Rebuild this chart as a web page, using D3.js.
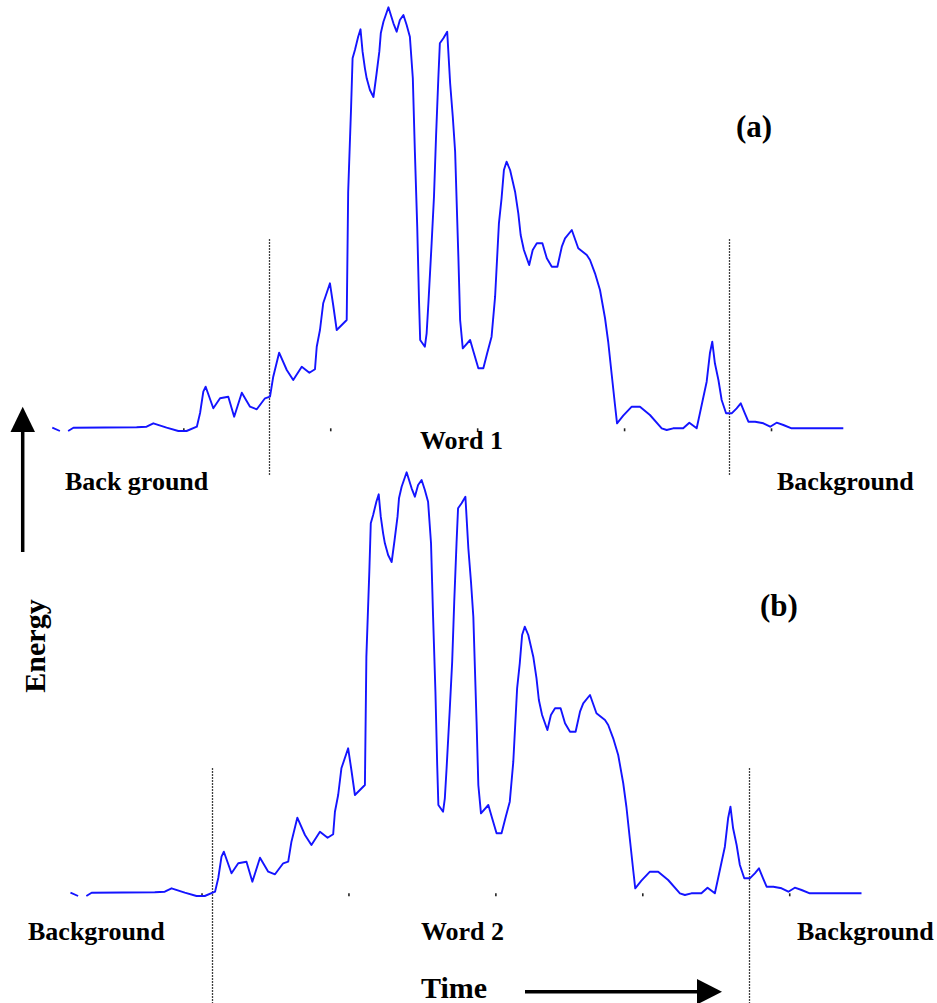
<!DOCTYPE html>
<html>
<head>
<meta charset="utf-8">
<script src="https://cdn.jsdelivr.net/npm/d3@7/dist/d3.min.js"></script>
<style>
  body { margin: 0; background: #fff; }
  svg { display: block; }
  text { font-family: "Liberation Serif", "Times New Roman", serif; font-weight: bold; fill: #000; }
</style>
</head>
<body>
<svg id="chart" width="937" height="1003"></svg>
<script>
// Short-time energy of the spoken word, frame index vs. energy (arbitrary units).
// A null marks a short break in the plotted trace.
const frames = [
  5.4, 8.0, 9.4, 10.8, 12.6, 34.1, 37.5, 39.8, 44.3, 48.3,
  51.1, 54.6, 55.7, 56.8, 57.6, 60.2, 62.5, 65.3, 67.3, 69.9,
  72.7, 75.0, 77.8, 79.5, 80.6, 82.6, 85.2, 87.4, 90.3, 92.9,
  94.8, 95.4, 96.5, 97.6, 99.9, 101.0, 102.2, 105.6, 106.1, 107.1,
  107.6, 108.4, 109.5, 110.3, 111.0, 111.8, 112.4, 113.5, 114.7, 115.7,
  116.7, 117.2, 118.1, 119.8, 121.5, 122.6, 123.7, 124.9, 126.0, 127.1,
  128.1, 128.8, 129.6, 130.2, 130.6, 132.2, 132.8, 133.4, 134.5, 135.3,
  136.0, 136.8, 137.3, 138.5, 139.8, 140.8, 141.7, 142.5, 143.0, 143.6,
  144.2, 145.1, 147.6, 148.9, 150.4, 152.1, 153.4, 154.9, 156.1, 157.4,
  158.3, 159.1, 160.0, 161.2, 162.9, 164.0, 164.8, 165.9, 167.7, 168.9,
  170.3, 172.2, 173.7, 175.4, 177.3, 178.8, 179.9, 182.2, 184.4, 187.3,
  188.4, 190.1, 191.8, 193.5, 194.6, 195.8, 196.9, 197.6, 199.7, 202.6,
  205.4, 208.8, 212.8, 214.5, 216.7, 220.1, 222.2, 224.7, 225.8, 227.0,
  228.1, 229.2, 230.0, 230.9, 232.1, 233.2, 234.7, 236.6, 238.3, 239.7,
  241.1, 242.3, 244.6, 247.4, 249.7, 251.9, 254.2, 257.0, 274.6
];
const energy = [
  0.6, -2.7, null, -2.7, 0.6, 1.0, 1.6, 5.0, 0.6, -2.7,
  -2.7, 1.6, 15.3, 36.6, 41.6, 20.0, 30.0, 31.6, 11.6, 35.6,
  21.6, 19.0, 30.0, 31.6, 51.6, 75.6, 58.3, 48.3, 61.6, 55.6,
  59.0, 81.6, 98.3, 125.0, 145.0, 123.3, 98.3, 108.3, 236.6, 321.6,
  370.0, 378.3, 391.6, 399.0, 376.6, 360.0, 350.0, 338.3, 331.3, 353.3,
  376.6, 395.0, 406.6, 421.0, 405.0, 396.6, 408.3, 413.3, 403.3, 391.6,
  350.0, 276.6, 201.6, 128.3, 88.3, 81.6, 95.0, 125.0, 185.0, 231.6,
  291.6, 351.6, 385.0, 390.0, 396.6, 345.0, 311.6, 276.6, 228.3, 171.6,
  108.3, 80.0, 88.3, 75.0, 60.0, 60.0, 75.0, 91.6, 131.6, 205.0,
  230.0, 258.3, 266.6, 258.3, 236.6, 215.0, 193.3, 178.3, 163.3, 178.3,
  185.0, 185.0, 170.0, 161.6, 161.6, 181.6, 190.0, 198.3, 180.0, 173.3,
  168.3, 155.0, 138.3, 110.3, 86.3, 53.3, 23.3, 5.0, 12.6, 21.6,
  21.6, 13.3, 0.0, -1.7, 0.0, 0.0, 5.6, 0.0, 15.0, 31.6,
  46.6, 75.0, 86.6, 65.0, 48.3, 28.3, 15.0, 15.0, 20.0, 25.0,
  15.0, 6.6, 6.6, 5.0, 1.6, 5.6, 3.3, 0.0, 0.0
];

const tickFrames = [50, 100, 150, 200, 250];

// Per panel: tag, word label, side labels, detected word boundaries (frames)
const panelTags = ["(a)", "(b)"];
const wordLabels = ["Word 1", "Word 2"];
const leftLabels = ["Back ground", "Background"];
const rightLabels = ["Background", "Background"];
const boundaryFrames = [[79.2, 235.8], [53.4, 236.4]];
const boundaryTop = [189, 125];
const boundaryBottom = [-47, -112];

const axisLabels = { y: "Energy", x: "Time" };

// Layout of each panel on the page
const layout = [
  { x0: 36.4, base: 428.3, tag: [736, 137], word: [420, 449], left: [65, 490], right: [777, 490] },
  { x0: 54.6, base: 893.3, tag: [760, 616], word: [421, 940], left: [28, 940], right: [797, 940] }
];
const pxPerFrame = 2.9385;
const pxPerUnit = 1;

const svg = d3.select("#chart");
const series = frames.map((f, i) => ({ f, e: energy[i] }));

layout.forEach((L, p) => {
  const x = d3.scaleLinear().domain([0, 300]).range([L.x0, L.x0 + 300 * pxPerFrame]);
  const y = d3.scaleLinear().domain([0, 421]).range([L.base, L.base - 421 * pxPerUnit]);
  const g = svg.append("g");

  // word boundary markers
  g.selectAll("line.bound")
    .data(boundaryFrames[p])
    .join("line")
    .attr("class", "bound")
    .attr("x1", d => Math.round(x(d)) + 0.5)
    .attr("x2", d => Math.round(x(d)) + 0.5)
    .attr("y1", y(boundaryTop[p]))
    .attr("y2", y(boundaryBottom[p]))
    .attr("stroke", "#000")
    .attr("stroke-width", 1.3)
    .attr("stroke-dasharray", "1.5,1.5");

  // frame ticks (no axis line, no labels)
  const ax = g.append("g")
    .attr("transform", `translate(0,${L.base})`)
    .call(d3.axisBottom(x).tickValues(tickFrames).tickSize(3).tickSizeOuter(0).tickFormat(""));
  ax.select(".domain").remove();
  ax.selectAll(".tick line").attr("stroke", "#222").attr("stroke-width", 1.6);

  // energy contour
  const line = d3.line()
    .defined(d => d.e !== null)
    .x(d => x(d.f))
    .y(d => y(d.e));
  g.append("path")
    .datum(series)
    .attr("d", line)
    .attr("fill", "none")
    .attr("stroke", "#1414ff")
    .attr("stroke-width", 1.9)
    .attr("stroke-linejoin", "round");

  g.append("text").attr("x", L.tag[0]).attr("y", L.tag[1]).attr("font-size", 31).text(panelTags[p]);
  g.append("text").attr("x", L.word[0]).attr("y", L.word[1]).attr("font-size", 26).text(wordLabels[p]);
  g.append("text").attr("x", L.left[0]).attr("y", L.left[1]).attr("font-size", 26).text(leftLabels[p]);
  g.append("text").attr("x", L.right[0]).attr("y", L.right[1]).attr("font-size", 26).text(rightLabels[p]);
});

// Energy axis arrow and label
svg.append("line").attr("x1", 22.7).attr("x2", 22.7).attr("y1", 552).attr("y2", 428)
  .attr("stroke", "#000").attr("stroke-width", 3.5);
svg.append("path").attr("d", "M22.7,406.7 L10.5,432 L35,432 Z").attr("fill", "#000");
svg.append("text")
  .attr("transform", "translate(45,646) rotate(-90)")
  .attr("text-anchor", "middle")
  .attr("font-size", 30)
  .text(axisLabels.y);

// Time axis arrow and label
svg.append("text").attr("x", 421).attr("y", 998).attr("font-size", 30).text(axisLabels.x);
svg.append("line").attr("x1", 525).attr("x2", 699).attr("y1", 991.7).attr("y2", 991.7)
  .attr("stroke", "#000").attr("stroke-width", 3.5);
svg.append("path").attr("d", "M722,991.7 L697,979 L697,1004.5 Z").attr("fill", "#000");
</script>
</body>
</html>
